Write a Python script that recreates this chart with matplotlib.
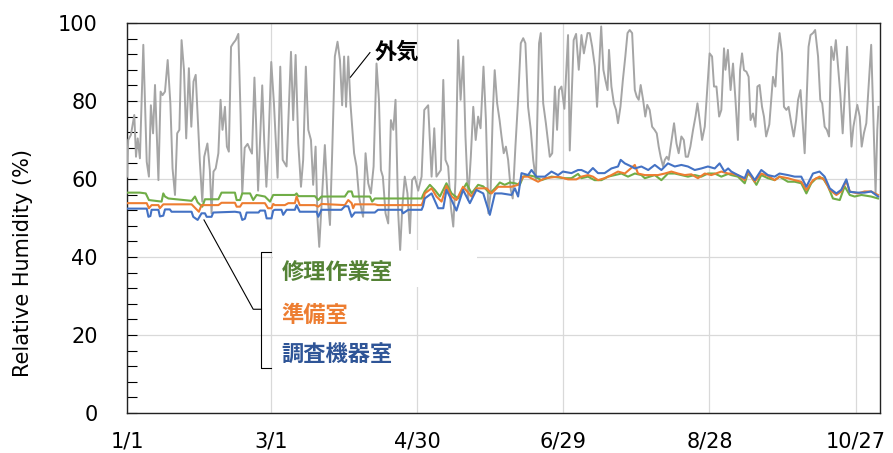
import matplotlib
matplotlib.use("Agg")
import matplotlib.pyplot as plt
from matplotlib.patches import Rectangle
from matplotlib.ticker import MultipleLocator

# day of year (1/1 = 0) and relative humidity (%)
outdoor_days = [
    0.0, 0.5, 1.6, 3.0, 3.7, 4.4, 5.3, 6.7, 8.1, 9.0, 9.8, 10.7, 11.5, 12.9, 13.8, 14.6,
    15.6, 16.7, 17.8, 18.7, 19.7, 20.6, 21.5, 22.4, 23.4, 24.3, 25.4, 26.4, 27.3, 28.2,
    29.0, 29.9, 30.9, 31.7, 33.0, 34.0, 34.7, 35.5, 36.4, 37.5, 38.4, 39.2, 40.2, 41.0,
    41.8, 42.7, 43.6, 44.6, 45.7, 46.6, 47.3, 48.3, 49.5, 50.5, 51.3, 52.3, 53.0, 53.8,
    54.6, 55.5, 56.3, 57.2, 58.0, 59.2, 60.3, 61.8, 62.9, 63.9, 65.5, 67.3, 68.2, 69.2,
    70.3, 71.4, 72.3, 73.4, 74.4, 75.5, 76.4, 77.4, 78.2, 78.9, 79.8, 81.2, 82.2, 83.3,
    84.2, 85.3, 86.4, 87.4, 88.3, 89.1, 89.9, 90.8, 91.7, 93.2, 94.2, 95.2, 96.0, 96.9,
    97.9, 99.0, 100.1, 101.2, 102.4, 103.4, 104.2, 105.0, 106.1, 107.2, 108.3, 109.3,
    110.2, 111.3, 112.1, 113.0, 114.0, 115.1, 116.1, 117.0, 118.1, 119.5, 120.9, 122.0,
    123.6, 125.0, 126.1, 127.0, 128.8, 129.8, 130.7, 131.8, 132.9, 133.9, 134.8, 135.9,
    136.9, 138.0, 138.9, 140.0, 141.1, 142.1, 143.1, 144.1, 145.1, 146.3, 147.3, 148.3,
    149.2, 150.1, 150.9, 151.9, 152.9, 153.7, 154.6, 155.5, 156.4, 157.5, 158.3, 159.4,
    160.5, 161.6, 162.6, 163.5, 164.6, 165.7, 166.7, 167.8, 169.1, 169.8, 170.8, 171.9,
    173.5, 174.5, 175.6, 176.5, 177.3, 178.3, 179.5, 181.0, 181.7, 183.3, 184.3, 185.4,
    186.5, 187.5, 189.0, 189.9, 190.9, 192.0, 192.9, 194.6, 195.5, 196.3, 197.2, 197.8,
    198.8, 199.8, 200.7, 201.5, 202.5, 203.5, 204.5, 205.4, 206.3, 207.3, 208.4, 209.2,
    210.0, 210.8, 211.8, 212.7, 213.5, 214.5, 215.5, 216.5, 217.4, 218.2, 219.0, 220.0,
    220.7, 221.5, 222.3, 224.5, 225.5, 226.4, 227.5, 228.5, 229.3, 230.2, 231.2, 232.3,
    233.3, 234.1, 235.0, 236.0, 237.1, 238.2, 239.1, 240.1, 240.9, 241.9, 243.0, 243.9,
    245.0, 245.6, 246.6, 247.7, 248.7, 249.7, 250.7, 251.6, 252.4, 253.2, 254.2, 255.1,
    255.9, 256.9, 257.9, 258.7, 259.6, 260.6, 261.4, 262.3, 263.6, 265.1, 266.1, 266.9,
    267.8, 268.8, 269.6, 270.6, 271.5, 272.6, 273.6, 274.6, 275.4, 276.4, 277.2, 278.1,
    279.7, 280.5, 281.5, 282.4, 283.6, 284.5, 285.3, 286.3, 287.2, 288.1, 289.0, 290.0,
    290.9, 291.8, 292.7, 293.7, 294.5, 295.5, 296.4, 297.3, 298.1, 299.7, 300.7, 301.5,
    302.4, 303.4, 305.4, 306.3, 307.2, 307.9, 308.4,
]
outdoor_rh = [
    60.6, 70.0, 71.3, 76.4, 65.7, 70.4, 65.3, 94.4, 64.4, 60.6, 78.9, 71.7, 84.1, 59.7, 82.4, 81.5,
    82.4, 90.5, 79.4, 62.7, 55.9, 71.7, 72.6, 95.6, 87.9, 70.4, 88.4, 73.4, 85.0, 86.7,
    76.0, 64.4, 54.2, 65.7, 69.1, 62.3, 51.2, 61.9, 62.7, 66.6, 80.3, 72.6, 78.5, 68.3,
    67.0, 93.9, 94.8, 95.6, 97.2, 76.8, 56.3, 68.0, 69.0, 67.5, 66.5, 86.0, 74.0, 57.0,
    70.0, 84.0, 70.0, 58.0, 68.0, 90.0, 79.5, 60.3, 88.8, 64.9, 63.2, 92.6, 75.1, 91.8,
    69.1, 58.0, 64.9, 88.8, 72.6, 70.0, 58.5, 68.3, 49.5, 42.6, 52.9, 68.7, 56.3, 48.2,
    66.6, 91.4, 95.2, 90.5, 78.9, 91.4, 78.5, 91.4, 79.4, 66.6, 63.2, 55.5, 52.9, 50.3,
    66.6, 58.9, 56.3, 63.2, 89.6, 80.3, 62.3, 60.6, 51.2, 48.6, 75.1, 72.6,
    80.3, 51.2, 41.8, 52.9, 60.6, 56.3, 46.1, 59.7, 60.6, 57.0, 60.6, 77.7,
    78.9, 60.6, 73.0, 60.6, 62.3, 85.4, 64.9, 63.2, 52.9, 47.8, 59.7, 95.6,
    80.3, 91.4, 70.9, 54.6, 65.7, 78.5, 70.0, 76.0, 73.0, 88.8, 75.1, 51.2,
    56.3, 76.8, 87.9, 79.4, 75.1, 70.9, 66.6, 68.3, 64.9, 57.2, 55.0, 68.3,
    80.3, 94.8, 96.1, 94.8, 78.5, 72.6, 64.9, 59.7, 94.8, 97.4, 79.4, 74.3,
    65.7, 66.6, 83.7, 72.6, 82.8, 83.7, 78.0, 96.9, 67.3, 95.6, 97.2, 88.0,
    96.9, 92.2, 97.4, 97.4, 93.9, 88.8, 78.5, 99.1, 88.0, 85.4, 82.8, 93.1,
    83.7, 79.4, 77.7, 74.3, 78.5, 85.4, 91.4, 97.4, 98.2, 97.4, 82.8, 81.1,
    80.3, 84.1, 80.3, 76.0, 79.0, 77.7, 73.4, 72.6, 71.7, 68.3, 65.7, 63.2,
    64.9, 65.7, 64.9, 74.3, 69.1, 66.6, 70.9, 70.0, 65.7, 65.7, 68.3, 72.6,
    76.0, 79.4, 75.1, 70.0, 73.4, 83.7, 92.2, 91.4, 83.7, 83.7, 76.0, 77.7,
    93.5, 88.0, 93.1, 82.8, 89.6, 80.3, 70.0, 87.9, 92.2, 87.9, 87.5, 86.2,
    75.1, 76.8, 73.4, 83.7, 84.1, 78.5, 76.0, 70.9, 74.0, 86.2, 83.7, 92.2,
    97.4, 92.2, 78.5, 77.7, 78.5, 74.3, 70.9, 75.1, 80.3, 82.8, 75.1, 66.6,
    93.9, 96.9, 97.4, 98.2, 91.4, 80.3, 79.4, 73.4, 72.6, 70.9, 93.9, 90.5,
    95.6, 88.8, 82.0, 71.7, 81.1, 93.9, 80.3, 68.3, 73.4, 79.0, 76.0, 68.3,
    71.7, 74.3, 94.4, 75.1, 56.3, 72.6, 78.5,
]

# 修理作業室
repair_days = [
    0.0, 5.3, 7.7, 9.0, 14.2, 14.9, 15.6, 17.0, 26.5, 27.9, 29.0, 30.9, 32.0, 37.5, 38.8,
    44.3, 45.0, 46.4, 47.3, 50.5, 51.8, 53.2, 56.6, 58.7, 60.0, 60.7, 68.9, 69.6, 70.3,
    77.1, 78.5, 79.8, 89.4, 90.8, 92.2, 92.8, 99.7, 100.6, 101.7, 120.9, 121.5,
    122.2, 124.3, 126.3, 128.4, 131.1, 133.2, 135.9, 139.3, 141.4, 144.1, 146.2, 148.9,
    151.0, 153.0, 155.0, 157.1, 159.2, 161.2, 162.6, 164.6, 167.4, 170.1, 174.2, 179.7,
    182.4, 185.1, 186.5, 189.2, 191.9, 194.7, 197.4, 200.2, 202.9, 205.6, 208.4, 211.1,
    212.5, 216.6, 219.3, 222.0, 224.8, 227.5, 230.2, 233.0, 235.7, 238.4, 241.2, 243.9,
    246.7, 248.0, 250.7, 253.5, 254.8, 256.2, 258.3, 260.3, 263.0, 265.8, 267.8, 271.2,
    274.0, 276.7, 278.8, 280.8, 282.9, 285.6, 287.7, 289.7, 292.5, 294.5, 296.6, 298.6,
    301.4, 305.4, 308.2,
]
repair_rh = [
    56.5, 56.5, 56.3, 54.6, 54.2, 56.3, 55.5, 55.0, 54.4, 55.5, 54.0, 52.9, 54.8, 54.8, 56.5,
    56.5, 54.6, 54.6, 56.3, 56.3, 54.6, 55.9, 55.5, 54.2, 55.9, 55.9, 55.9, 56.3, 55.6,
    55.6, 54.6, 55.5, 55.5, 56.8, 56.8, 55.5, 55.5, 54.2, 55.0, 55.0, 55.9,
    56.8, 58.5, 57.2, 55.5, 58.9, 56.3, 55.0, 58.9, 56.3, 58.5, 58.1, 56.3,
    57.6, 59.1, 58.5, 59.1, 58.9, 58.5, 60.6, 61.0, 60.6, 59.7, 60.6, 60.2,
    60.2, 61.3, 60.2, 60.6, 59.7, 59.7, 60.6, 61.0, 61.4, 60.6, 61.4, 61.0,
    60.2, 61.0, 59.7, 61.4, 61.4, 61.0, 60.6, 61.0, 60.6, 61.4, 61.4, 60.6,
    61.3, 61.0, 60.6, 58.9, 61.4, 60.6, 58.5, 61.0, 60.2, 59.7, 60.6, 59.3,
    59.3, 58.9, 56.3, 58.9, 60.2, 60.2, 58.1, 55.0, 54.6, 58.1, 55.9, 55.5,
    55.9, 55.5, 55.0,
]

# 準備室
prep_days = [
    0.0, 8.1, 9.0, 10.1, 12.9, 13.5, 14.9, 26.5, 29.5, 30.6, 37.5, 38.8, 44.3, 45.0, 46.4,
    47.3, 56.6, 57.9, 59.3, 60.0, 60.7, 64.8, 66.2, 68.9, 69.6, 70.9, 77.1, 78.5, 79.8,
    89.4, 90.8, 92.2, 92.8, 93.5, 101.7, 103.0, 120.9, 121.5,
    122.2, 125.0, 127.0, 129.1, 131.1, 133.2, 135.2, 137.9, 141.4, 143.4, 147.6, 149.6,
    152.3, 155.0, 157.8, 160.5, 162.6, 164.6, 168.7, 171.5, 176.9, 181.0, 184.4,
    186.5, 189.2, 191.2, 193.3, 196.0, 198.8, 201.5, 204.3, 208.4, 209.7, 212.5, 215.2,
    217.9, 220.7, 223.4, 226.1, 228.9, 231.6, 234.3, 237.1, 239.8, 243.9, 246.7,
    248.0, 250.7, 253.5, 254.8, 257.6, 260.3, 263.0, 265.8, 267.8, 271.2, 274.0, 276.7,
    278.8, 281.5, 284.2, 286.3, 288.4, 291.1, 293.1, 295.2, 296.6, 300.0, 302.7, 305.4,
    308.2,
]
prep_rh = [
    53.8, 53.8, 52.5, 53.3, 53.3, 52.5, 53.5, 53.5, 51.6, 53.3, 53.3, 53.9, 53.9, 52.9, 52.9,
    53.8, 53.8, 52.5, 52.5, 53.6, 53.3, 53.3, 53.8, 53.8, 55.5, 53.3, 53.3, 52.9, 53.6,
    53.3, 54.6, 53.8, 52.5, 53.5, 53.5, 53.3, 53.3, 54.2,
    56.3, 57.6, 55.5, 54.2, 58.2, 55.5, 54.6, 58.0, 55.5, 57.6, 57.6, 56.3,
    58.0, 58.0, 58.0, 58.5, 60.6, 60.6, 59.3, 60.2, 60.6, 59.9, 59.9,
    60.6, 61.0, 60.6, 59.7, 60.2, 61.0, 61.9, 61.4, 63.6, 61.4, 61.0, 61.0,
    61.0, 61.4, 61.9, 61.4, 61.0, 61.2, 60.2, 61.4, 61.0, 61.9, 61.4,
    61.4, 61.0, 59.7, 61.9, 59.3, 61.4, 60.8, 59.7, 60.6, 60.2, 59.7, 59.3,
    57.2, 59.7, 60.6, 59.7, 57.2, 55.9, 56.8, 59.5, 56.8, 56.3, 56.8, 56.8,
    55.9,
]

# 調査機器室
equip_days = [
    0.0, 8.1, 8.8, 9.6, 10.1, 12.9, 13.5, 14.9, 15.6, 17.6, 18.3, 26.5, 27.2, 29.0, 30.6,
    32.0, 32.7, 34.7, 35.4, 44.3, 46.4, 47.3, 48.4, 49.1, 54.0, 54.6, 56.6, 57.3, 59.3,
    60.0, 60.7, 63.4, 64.1, 65.5, 68.9, 69.6, 70.9, 77.8, 78.5, 79.8, 88.0, 89.4, 90.8,
    92.2, 93.5, 101.7, 103.0, 112.6, 113.3, 115.4, 120.9, 121.5,
    122.2, 125.0, 127.7, 129.8, 131.1, 133.2, 135.2, 137.9, 140.7, 143.4, 146.2, 148.9,
    151.0, 153.7, 157.8, 159.2, 160.5, 161.9, 164.6, 166.0, 168.0, 171.5, 174.2, 176.9,
    178.9, 182.4, 185.1,
    186.5, 189.2, 191.2, 193.3, 196.0, 198.8, 201.5, 202.6, 204.3, 207.0, 208.4, 211.1,
    213.9, 216.6, 219.3, 222.0, 224.8, 227.5, 230.2, 233.0, 235.7, 238.4, 241.2, 243.2,
    245.2, 246.7,
    248.0, 250.7, 253.5, 254.8, 257.6, 260.3, 263.0, 265.8, 267.8, 271.2, 274.0, 276.7,
    278.8, 281.5, 284.2, 286.3, 288.4, 291.1, 293.1, 295.2, 296.6, 300.0, 302.7, 305.4,
    308.2,
]
equip_rh = [
    52.4, 52.4, 50.3, 50.5, 52.1, 52.1, 50.4, 50.6, 52.2, 52.2, 51.6, 51.6, 50.3, 49.5, 51.2,
    51.2, 50.3, 50.3, 51.4, 51.6, 51.4, 49.5, 49.8, 51.4, 51.4, 51.9, 51.9, 49.9, 49.9,
    51.9, 52.1, 52.1, 50.8, 52.1, 52.1, 53.3, 51.6, 51.6, 50.3, 52.1, 52.1, 53.0, 53.0,
    50.3, 51.4, 51.4, 52.1, 52.1, 51.2, 52.1, 52.1, 53.0,
    55.0, 56.3, 52.5, 52.5, 57.2, 54.6, 51.9, 57.2, 53.8, 57.2, 56.3, 50.8,
    56.3, 56.3, 55.9, 57.6, 55.5, 61.5, 61.0, 62.3, 60.6, 60.6, 61.9, 61.0,
    61.9, 61.5, 62.3,
    62.3, 61.5, 62.8, 61.5, 61.5, 62.7, 63.2, 64.9, 64.0, 63.2, 62.7, 63.2,
    62.3, 63.6, 62.3, 64.0, 63.2, 63.6, 63.2, 62.3, 62.7, 63.2, 62.7, 64.0,
    61.9, 62.7,
    61.9, 61.0, 60.2, 62.3, 59.7, 62.3, 61.0, 60.6, 61.4, 61.0, 60.6, 60.6,
    58.0, 61.4, 61.9, 60.6, 57.6, 56.3, 57.2, 59.9, 56.7, 56.5, 56.5, 56.8,
    55.5,
]

tick_days = [0, 59, 119, 179, 239, 299]
tick_labels = ["1/1", "3/1", "4/30", "6/29", "8/28", "10/27"]

GRAY = "#A5A5A5"
GREEN = "#70AD47"
ORANGE = "#ED7D31"
BLUE = "#4472C4"

fig = plt.figure(figsize=(8.93, 4.53), dpi=100)
ax = fig.add_axes([0.1422, 0.0883, 0.8432, 0.861])

ax.plot(outdoor_days, outdoor_rh, color=GRAY, lw=1.4, zorder=3)
ax.plot(repair_days, repair_rh, color=GREEN, lw=1.5, zorder=4)
ax.plot(prep_days, prep_rh, color=ORANGE, lw=1.5, zorder=5)
ax.plot(equip_days, equip_rh, color=BLUE, lw=1.5, zorder=6)

ax.set_xlim(0, 309)
ax.set_ylim(0, 100)
ax.set_xticks(tick_days)
ax.set_xticklabels(tick_labels)
ax.yaxis.set_major_locator(MultipleLocator(20))
ax.yaxis.set_minor_locator(MultipleLocator(4))
ax.tick_params(axis="y", which="both", direction="in", length=7, width=0.8,
               labelsize=15, pad=21)
ax.tick_params(axis="x", which="both", length=0, labelsize=15, pad=13)
ax.grid(True, which="major", color="#D9D9D9", lw=0.9, zorder=0)
ax.set_axisbelow(True)
for s in ax.spines.values():
    s.set_color("#222222")
    s.set_linewidth(1.0)

fig.text(23 / 893, 1 - 263 / 453, "Relative Humidity (%)", rotation=90,
         ha="center", va="center", fontsize=15)

# label box hides the gridlines behind it
ax.add_patch(Rectangle((59.9, 32.3), 83.7, 9.5, facecolor="white",
                       edgecolor="none", zorder=2))

jp = ["Noto Sans CJK JP", "DejaVu Sans"]
ax.text(63.5, 35.9, "修理作業室", color="#548235", fontsize=16,
        fontweight="bold", family=jp, va="center", zorder=7)
ax.text(63.5, 25.1, "準備室", color="#ED7D31", fontsize=16,
        fontweight="bold", family=jp, va="center", zorder=7)
ax.text(63.5, 14.9, "調査機器室", color="#2F5597", fontsize=16,
        fontweight="bold", family=jp, va="center", zorder=7)
ax.text(101.7, 92.6, "外気", color="black", fontsize=16,
        fontweight="bold", family=jp, va="center", zorder=7)

# leader for 外気
ax.plot([91.7, 99.7], [86.1, 92.4], color="black", lw=0.8, zorder=7)
# bracket and leader for the indoor rooms
ax.plot([58.9, 55.2, 55.2, 58.9], [41.4, 41.4, 11.6, 11.6],
        color="black", lw=0.8, zorder=7)
ax.plot([55.2, 51.8, 31.6], [26.6, 26.6, 49.5], color="black", lw=0.8, zorder=7)

fig.savefig("out.png", dpi=100)
